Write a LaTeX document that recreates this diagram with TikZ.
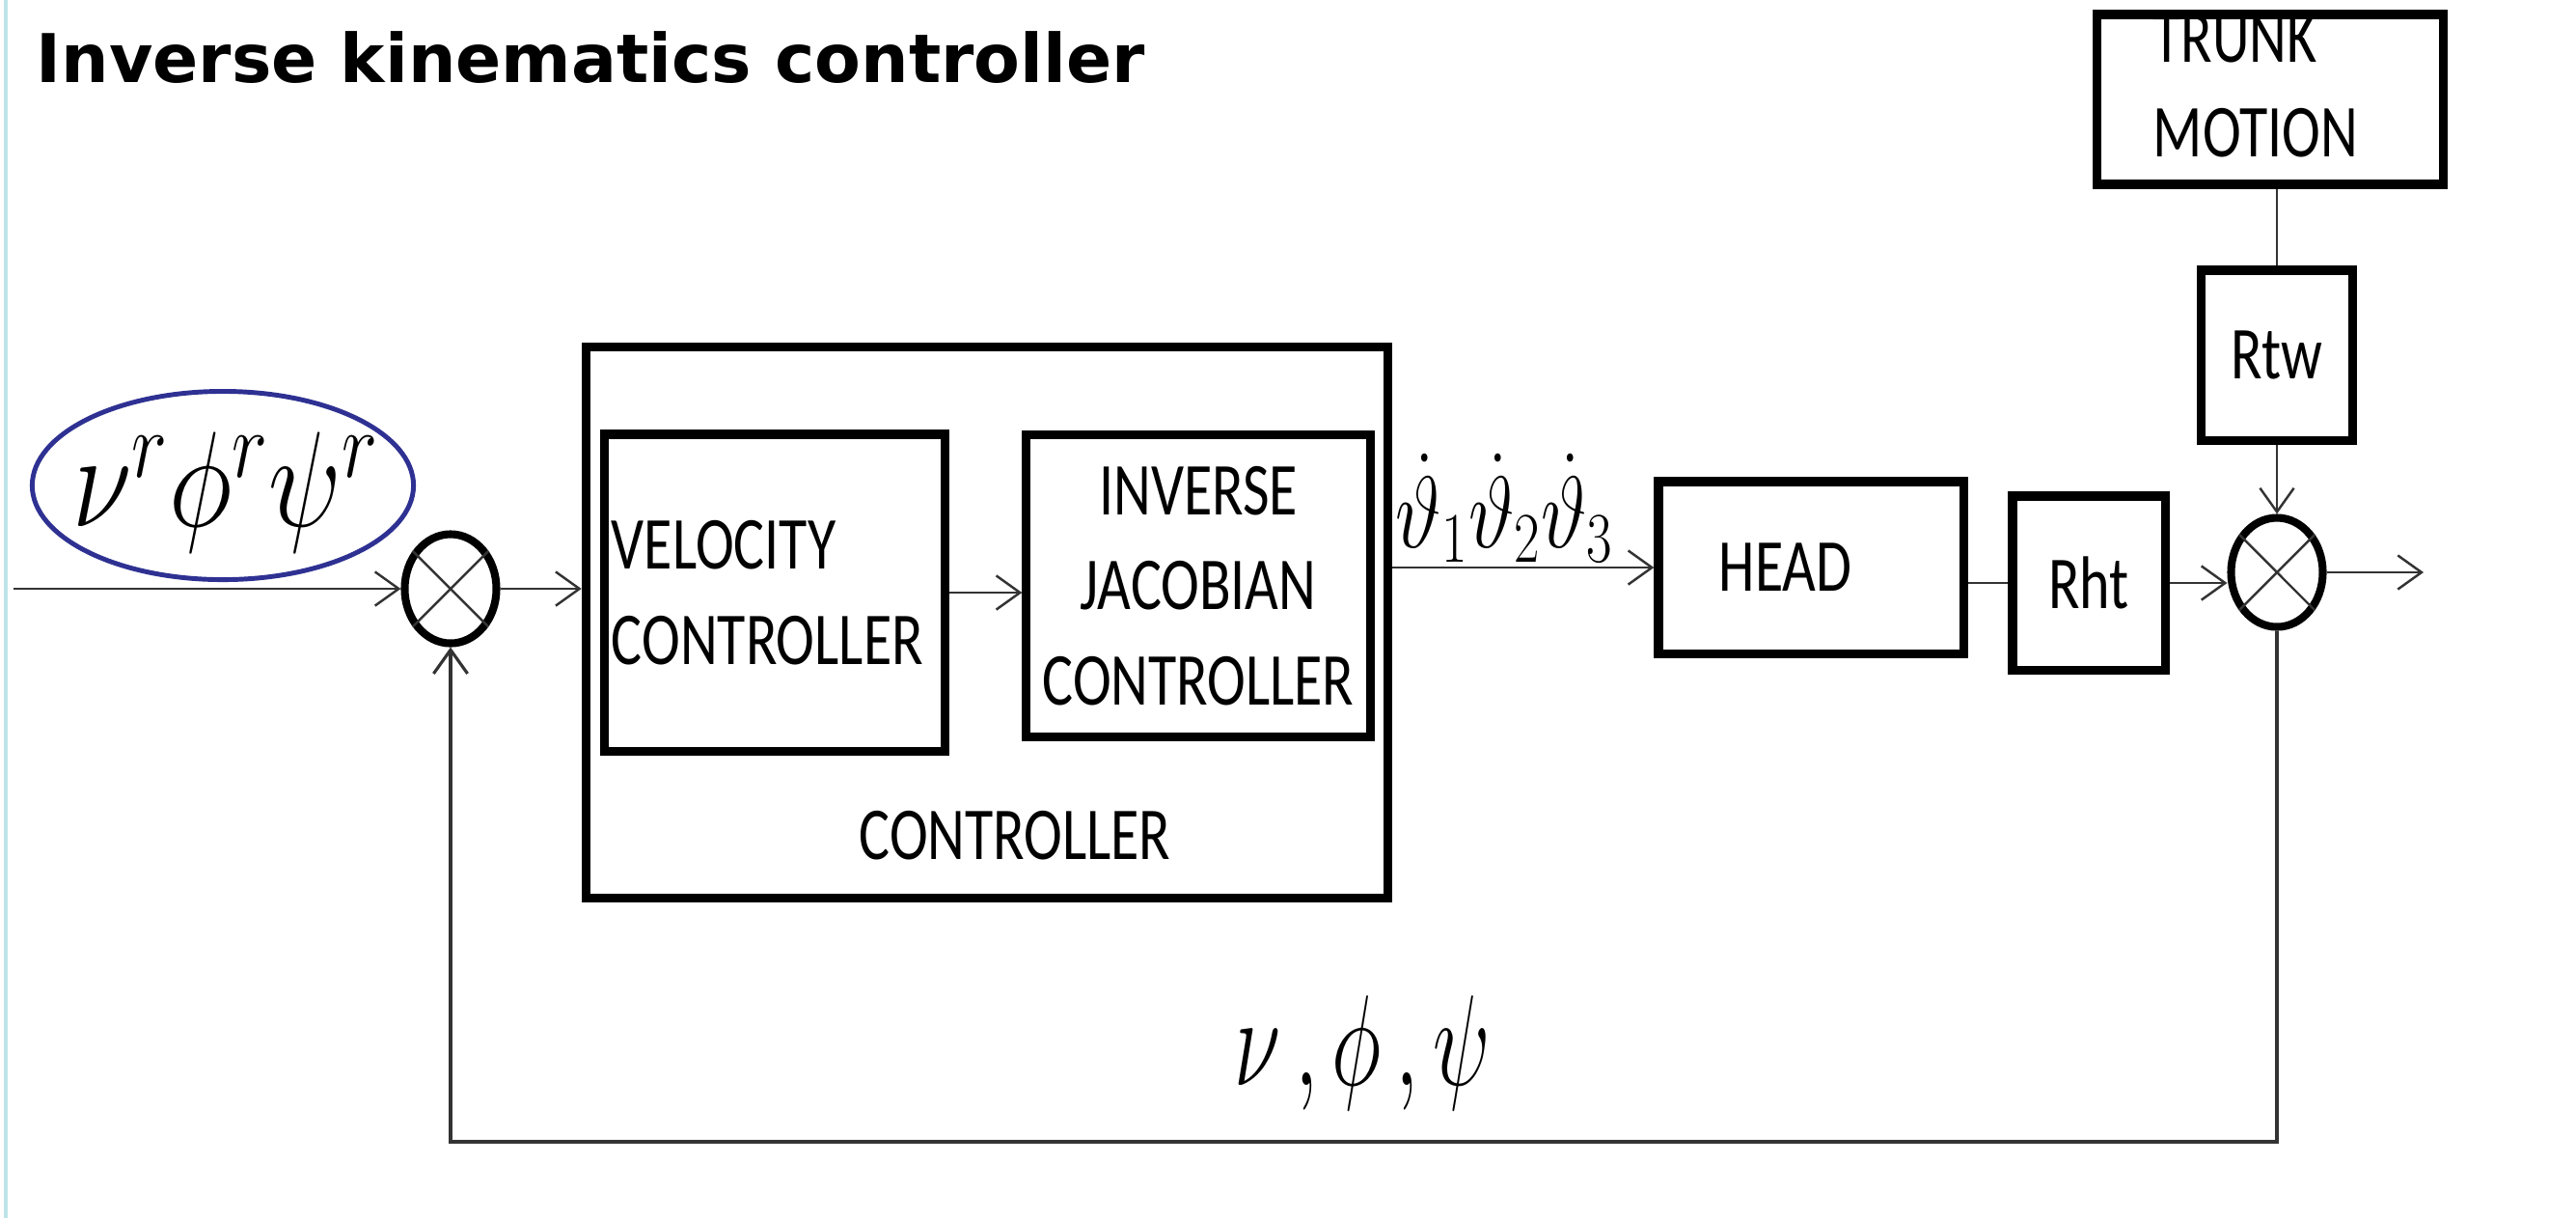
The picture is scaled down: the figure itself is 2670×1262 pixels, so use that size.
\RequirePackage{fix-cm}
\documentclass[tikz,border=0pt]{standalone}
\usepackage{fontspec}
\usepackage{amsmath}
\usepackage{graphicx}
\usepackage{xcolor}
\usepackage{tikz}
\usetikzlibrary{arrows.meta,positioning,calc,shapes.geometric}
\newfontfamily\boxfont[FakeStretch=0.775]{Carlito}
\newfontfamily\titlefont{DejaVu Sans}
\definecolor{refblue}{RGB}{46,49,146}
\definecolor{edgeblue}{RGB}{190,228,232}

\begin{document}
\begin{tikzpicture}[
  x=0.01cm, y=-0.01cm,
  >={Straight Barb[length=7pt,width=10pt]},
  font=\boxfont\fontsize{22}{28}\selectfont,
  box/.style={draw, line width=2.6pt, inner sep=0pt, align=center},
  sum/.style={draw, ellipse, line width=2.3pt, inner sep=0pt, minimum width=0.95cm, minimum height=1.13cm},
  arrow/.style={->, line width=0.7pt, draw=black!80},
  link/.style={line width=0.7pt, draw=black!80}
]
\useasboundingbox (0,0) rectangle (2670,1262);
\draw[edgeblue, line width=0.9pt] (6,0) -- (6,1262);
\node[anchor=base west, inner sep=0pt, font=\titlefont\bfseries\fontsize{19.8}{24}\selectfont] (title) at (37,85) {Inverse kinematics controller};

\node[ellipse, draw=refblue, line width=1.4pt, minimum width=3.95cm, minimum height=1.95cm, inner sep=0pt] (ref) at (231,503) {};
\node[inner sep=0pt] (reflbl) at (234,510)
  {\fontsize{40}{46}\selectfont\scalebox{0.8}[1]{$\nu^r\phi^r\psi^r$}};
\node[sum] (sum1) at (467,610) {};
\node[box, minimum width=8.31cm, minimum height=5.71cm] (ctrl) at (1023,645) {};
\node[box, minimum width=3.53cm, minimum height=3.28cm, text width=3.38cm, align=left] (vel) at (803,614) {VELOCITY\\CONTROLLER};
\node[box, minimum width=3.56cm, minimum height=3.13cm] (inv) at (1242,607) {INVERSE\\JACOBIAN\\CONTROLLER};
\node[anchor=base, inner sep=0pt] (ctrllbl) at (1052,890) {CONTROLLER};
\node[box, minimum width=3.16cm, minimum height=1.78cm, text width=1.9cm, align=left] (head) at (1877,588) {HEAD};
\node[box, minimum width=1.58cm, minimum height=1.80cm] (rht) at (2165,604) {Rht};
\node[sum] (sum2) at (2360,593) {};
\node[box, minimum width=1.57cm, minimum height=1.76cm] (rtw) at (2360,368) {Rtw};
\node[box, minimum width=3.59cm, minimum height=1.76cm] (trunk) at (2353,103) {};
\begin{scope}
  \clip (trunk.north west) rectangle (trunk.south east);
  \node[anchor=north west, inner sep=0pt, align=left] (trunklbl) at (2231,14) {TRUNK\\MOTION};
\end{scope}
\foreach \s in {sum1,sum2}
  \draw[link] (\s.45) -- (\s.225) (\s.135) -- (\s.315);

\node[anchor=base west, inner sep=0pt] (thetas) at (1446,567)
  {\fontsize{30}{36}\selectfont\scalebox{0.78}[1]{$\dot{\vartheta}_1\dot{\vartheta}_2\dot{\vartheta}_3$}};
\node[anchor=base, inner sep=0pt] (fblbl) at (1412,1124)
  {\fontsize{38}{44}\selectfont\scalebox{0.66}[1]{$\nu\,,\phi\,,\psi$}};

\coordinate (in) at (14,610);
\coordinate (out) at (2512,593);
\coordinate (fbbase) at (0,1183);
\draw[arrow] (in) -- (sum1.west);
\draw[arrow] (sum1.east) -- (sum1.east -| ctrl.west);
\draw[arrow] (vel.east) -- (vel.east -| inv.west);
\draw[arrow] (ctrl.east |- head.west) -- (head.west);
\draw[link] (head.east |- rht.west) -- (rht.west);
\draw[arrow] (rht.east) -- (rht.east -| sum2.west);
\draw[link] (trunk.south -| rtw.north) -- (rtw.north);
\draw[arrow] (rtw.south) -- (sum2.north);
\draw[arrow] (sum2.east) -- (out);
\draw[arrow, line width=0.9pt] (sum2.south) -- (sum2.south |- fbbase) -| (sum1.south);
\end{tikzpicture}
\end{document}
